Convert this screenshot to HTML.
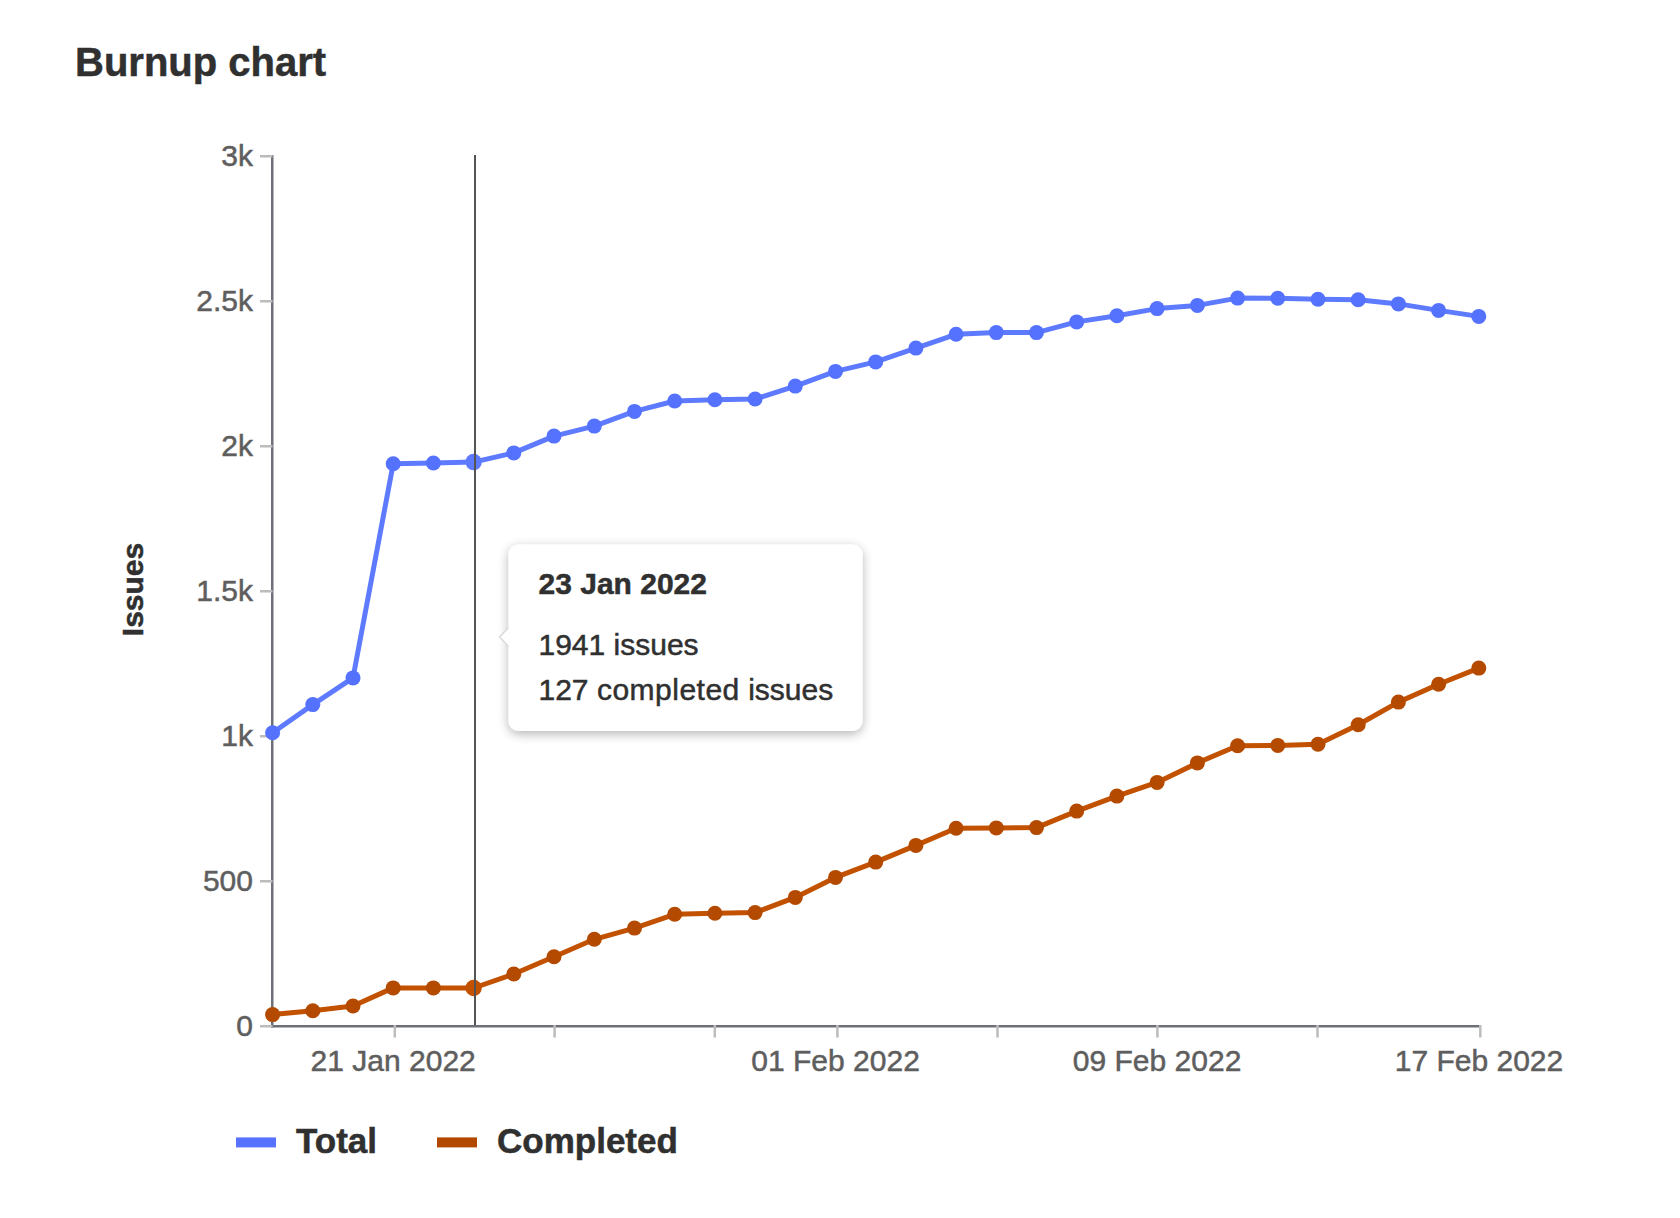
<!DOCTYPE html>
<html><head><meta charset="utf-8"><style>
html,body{margin:0;padding:0;background:#fff;}
text{stroke-width:0.5px;}
body{width:1680px;height:1218px;position:relative;overflow:hidden;font-family:"Liberation Sans",sans-serif;}
</style></head><body>
<svg width="1680" height="1218" viewBox="0 0 1680 1218" style="position:absolute;left:0;top:0"><defs><filter id="sh" x="-10%" y="-20%" width="120%" height="140%">
<feGaussianBlur in="SourceAlpha" stdDeviation="5.5"/><feOffset dy="2.5" result="b"/>
<feComponentTransfer><feFuncA type="linear" slope="0.3"/></feComponentTransfer>
<feMerge><feMergeNode/><feMergeNode in="SourceGraphic"/></feMerge></filter></defs><text x="75" y="75.8" font-family="&quot;Liberation Sans&quot;, sans-serif" font-weight="bold" font-size="40" fill="#303030" stroke="#303030">Burnup chart</text><text transform="translate(143.3,589.5) rotate(-90)" text-anchor="middle" font-family="&quot;Liberation Sans&quot;, sans-serif" font-weight="bold" font-size="30" fill="#303030" stroke="#303030">Issues</text><text x="253" y="165.8" text-anchor="end" font-family="&quot;Liberation Sans&quot;, sans-serif" font-size="30" fill="#5e5e5e" stroke="#5e5e5e">3k</text><text x="253" y="310.8" text-anchor="end" font-family="&quot;Liberation Sans&quot;, sans-serif" font-size="30" fill="#5e5e5e" stroke="#5e5e5e">2.5k</text><text x="253" y="455.8" text-anchor="end" font-family="&quot;Liberation Sans&quot;, sans-serif" font-size="30" fill="#5e5e5e" stroke="#5e5e5e">2k</text><text x="253" y="600.8" text-anchor="end" font-family="&quot;Liberation Sans&quot;, sans-serif" font-size="30" fill="#5e5e5e" stroke="#5e5e5e">1.5k</text><text x="253" y="745.8" text-anchor="end" font-family="&quot;Liberation Sans&quot;, sans-serif" font-size="30" fill="#5e5e5e" stroke="#5e5e5e">1k</text><text x="253" y="890.8" text-anchor="end" font-family="&quot;Liberation Sans&quot;, sans-serif" font-size="30" fill="#5e5e5e" stroke="#5e5e5e">500</text><text x="253" y="1035.8" text-anchor="end" font-family="&quot;Liberation Sans&quot;, sans-serif" font-size="30" fill="#5e5e5e" stroke="#5e5e5e">0</text><rect x="271" y="155" width="2.5" height="872.5" fill="#6e7079"/><rect x="271" y="1025" width="1208" height="2.5" fill="#6e7079"/><rect x="260" y="155" width="12.5" height="2.5" fill="#bcbcbc"/><rect x="260" y="300" width="12.5" height="2.5" fill="#bcbcbc"/><rect x="260" y="445" width="12.5" height="2.5" fill="#bcbcbc"/><rect x="260" y="590" width="12.5" height="2.5" fill="#bcbcbc"/><rect x="260" y="735" width="12.5" height="2.5" fill="#bcbcbc"/><rect x="260" y="880" width="12.5" height="2.5" fill="#bcbcbc"/><rect x="260" y="1025" width="12.5" height="2.5" fill="#bcbcbc"/><rect x="393.55" y="1025" width="2.5" height="12.5" fill="#bcbcbc"/><rect x="553.35" y="1025" width="2.5" height="12.5" fill="#bcbcbc"/><rect x="713.55" y="1025" width="2.5" height="12.5" fill="#bcbcbc"/><rect x="836.15" y="1025" width="2.5" height="12.5" fill="#bcbcbc"/><rect x="996.25" y="1025" width="2.5" height="12.5" fill="#bcbcbc"/><rect x="1156.15" y="1025" width="2.5" height="12.5" fill="#bcbcbc"/><rect x="1316.25" y="1025" width="2.5" height="12.5" fill="#bcbcbc"/><rect x="1479.05" y="1025" width="2.5" height="12.5" fill="#bcbcbc"/><text x="393.2" y="1071.1" text-anchor="middle" font-family="&quot;Liberation Sans&quot;, sans-serif" font-size="30" fill="#5e5e5e" stroke="#5e5e5e">21 Jan 2022</text><text x="835.6" y="1071.1" text-anchor="middle" font-family="&quot;Liberation Sans&quot;, sans-serif" font-size="30" fill="#5e5e5e" stroke="#5e5e5e">01 Feb 2022</text><text x="1157.1" y="1071.1" text-anchor="middle" font-family="&quot;Liberation Sans&quot;, sans-serif" font-size="30" fill="#5e5e5e" stroke="#5e5e5e">09 Feb 2022</text><text x="1479.0" y="1071.1" text-anchor="middle" font-family="&quot;Liberation Sans&quot;, sans-serif" font-size="30" fill="#5e5e5e" stroke="#5e5e5e">17 Feb 2022</text><polyline points="272.6,732.8 312.8,704.6 353.0,677.9 393.2,463.7 433.4,463.0 473.6,462.1 513.8,452.9 554.0,436.1 594.3,426.1 634.5,411.4 674.7,401.0 714.9,399.7 755.1,399.0 795.3,386.1 835.5,371.4 875.7,361.9 915.9,348.1 956.1,334.3 996.3,332.6 1036.5,332.6 1076.7,321.9 1116.9,315.7 1157.1,308.6 1197.4,305.4 1237.6,298.1 1277.8,298.3 1318.0,299.3 1358.2,299.7 1398.4,303.9 1438.6,310.4 1478.8,316.4" fill="none" stroke="#5e7bff" stroke-width="5" stroke-linejoin="round"/><circle cx="272.6" cy="732.8" r="7.5" fill="#5572ff"/><circle cx="312.8" cy="704.6" r="7.5" fill="#5572ff"/><circle cx="353.0" cy="677.9" r="7.5" fill="#5572ff"/><circle cx="393.2" cy="463.7" r="7.5" fill="#5572ff"/><circle cx="433.4" cy="463.0" r="7.5" fill="#5572ff"/><circle cx="473.6" cy="462.1" r="8.25" fill="#5e7bff"/><circle cx="513.8" cy="452.9" r="7.5" fill="#5572ff"/><circle cx="554.0" cy="436.1" r="7.5" fill="#5572ff"/><circle cx="594.3" cy="426.1" r="7.5" fill="#5572ff"/><circle cx="634.5" cy="411.4" r="7.5" fill="#5572ff"/><circle cx="674.7" cy="401.0" r="7.5" fill="#5572ff"/><circle cx="714.9" cy="399.7" r="7.5" fill="#5572ff"/><circle cx="755.1" cy="399.0" r="7.5" fill="#5572ff"/><circle cx="795.3" cy="386.1" r="7.5" fill="#5572ff"/><circle cx="835.5" cy="371.4" r="7.5" fill="#5572ff"/><circle cx="875.7" cy="361.9" r="7.5" fill="#5572ff"/><circle cx="915.9" cy="348.1" r="7.5" fill="#5572ff"/><circle cx="956.1" cy="334.3" r="7.5" fill="#5572ff"/><circle cx="996.3" cy="332.6" r="7.5" fill="#5572ff"/><circle cx="1036.5" cy="332.6" r="7.5" fill="#5572ff"/><circle cx="1076.7" cy="321.9" r="7.5" fill="#5572ff"/><circle cx="1116.9" cy="315.7" r="7.5" fill="#5572ff"/><circle cx="1157.1" cy="308.6" r="7.5" fill="#5572ff"/><circle cx="1197.4" cy="305.4" r="7.5" fill="#5572ff"/><circle cx="1237.6" cy="298.1" r="7.5" fill="#5572ff"/><circle cx="1277.8" cy="298.3" r="7.5" fill="#5572ff"/><circle cx="1318.0" cy="299.3" r="7.5" fill="#5572ff"/><circle cx="1358.2" cy="299.7" r="7.5" fill="#5572ff"/><circle cx="1398.4" cy="303.9" r="7.5" fill="#5572ff"/><circle cx="1438.6" cy="310.4" r="7.5" fill="#5572ff"/><circle cx="1478.8" cy="316.4" r="7.5" fill="#5572ff"/><polyline points="272.6,1014.6 312.8,1010.7 353.0,1006.0 393.2,987.9 433.4,987.9 473.6,988.0 513.8,974.0 554.0,956.7 594.3,939.3 634.5,928.1 674.7,914.3 714.9,913.3 755.1,912.6 795.3,897.4 835.5,877.4 875.7,862.1 915.9,845.4 956.1,828.3 996.3,827.9 1036.5,827.6 1076.7,811.1 1116.9,796.1 1157.1,782.4 1197.4,762.9 1237.6,745.7 1277.8,745.4 1318.0,744.3 1358.2,724.7 1398.4,702.1 1438.6,684.3 1478.8,668.1" fill="none" stroke="#c25100" stroke-width="5" stroke-linejoin="round"/><circle cx="272.6" cy="1014.6" r="7.5" fill="#b34a00"/><circle cx="312.8" cy="1010.7" r="7.5" fill="#b34a00"/><circle cx="353.0" cy="1006.0" r="7.5" fill="#b34a00"/><circle cx="393.2" cy="987.9" r="7.5" fill="#b34a00"/><circle cx="433.4" cy="987.9" r="7.5" fill="#b34a00"/><circle cx="473.6" cy="988.0" r="8.25" fill="#c25100"/><circle cx="513.8" cy="974.0" r="7.5" fill="#b34a00"/><circle cx="554.0" cy="956.7" r="7.5" fill="#b34a00"/><circle cx="594.3" cy="939.3" r="7.5" fill="#b34a00"/><circle cx="634.5" cy="928.1" r="7.5" fill="#b34a00"/><circle cx="674.7" cy="914.3" r="7.5" fill="#b34a00"/><circle cx="714.9" cy="913.3" r="7.5" fill="#b34a00"/><circle cx="755.1" cy="912.6" r="7.5" fill="#b34a00"/><circle cx="795.3" cy="897.4" r="7.5" fill="#b34a00"/><circle cx="835.5" cy="877.4" r="7.5" fill="#b34a00"/><circle cx="875.7" cy="862.1" r="7.5" fill="#b34a00"/><circle cx="915.9" cy="845.4" r="7.5" fill="#b34a00"/><circle cx="956.1" cy="828.3" r="7.5" fill="#b34a00"/><circle cx="996.3" cy="827.9" r="7.5" fill="#b34a00"/><circle cx="1036.5" cy="827.6" r="7.5" fill="#b34a00"/><circle cx="1076.7" cy="811.1" r="7.5" fill="#b34a00"/><circle cx="1116.9" cy="796.1" r="7.5" fill="#b34a00"/><circle cx="1157.1" cy="782.4" r="7.5" fill="#b34a00"/><circle cx="1197.4" cy="762.9" r="7.5" fill="#b34a00"/><circle cx="1237.6" cy="745.7" r="7.5" fill="#b34a00"/><circle cx="1277.8" cy="745.4" r="7.5" fill="#b34a00"/><circle cx="1318.0" cy="744.3" r="7.5" fill="#b34a00"/><circle cx="1358.2" cy="724.7" r="7.5" fill="#b34a00"/><circle cx="1398.4" cy="702.1" r="7.5" fill="#b34a00"/><circle cx="1438.6" cy="684.3" r="7.5" fill="#b34a00"/><circle cx="1478.8" cy="668.1" r="7.5" fill="#b34a00"/><rect x="474" y="155" width="2" height="870" fill="#545454"/><rect x="236" y="1137.4" width="40" height="10" fill="#5772ff"/><text x="296" y="1152.9" font-family="&quot;Liberation Sans&quot;, sans-serif" font-weight="bold" font-size="35" fill="#303030" stroke="#303030">Total</text><rect x="437" y="1137.4" width="40" height="10" fill="#b24800"/><text x="497" y="1152.9" font-family="&quot;Liberation Sans&quot;, sans-serif" font-weight="bold" font-size="35" fill="#303030" stroke="#303030">Completed</text><rect x="508.5" y="544.5" width="354.0" height="186.5" rx="10" fill="#fff" stroke="none" filter="url(#sh)"/><path d="M509.0,627.6 L499.2,637 L509.0,646.2 Z" fill="#fff"/><path d="M508.5,627.6 L499.6,637 L508.5,646.2" fill="none" stroke="#dcdcdc" stroke-width="1.6"/><text x="538.5" y="594.4" font-family="&quot;Liberation Sans&quot;, sans-serif" font-weight="bold" font-size="30" fill="#303030" stroke="#303030">23 Jan 2022</text><text x="538.5" y="654.7" font-family="&quot;Liberation Sans&quot;, sans-serif" font-size="30" fill="#303030" stroke="#303030">1941 issues</text><text x="538.5" y="699.7" font-family="&quot;Liberation Sans&quot;, sans-serif" font-size="30" fill="#303030" stroke="#303030">127 <tspan letter-spacing="0.5">completed</tspan> issues</text></svg>
</body></html>
